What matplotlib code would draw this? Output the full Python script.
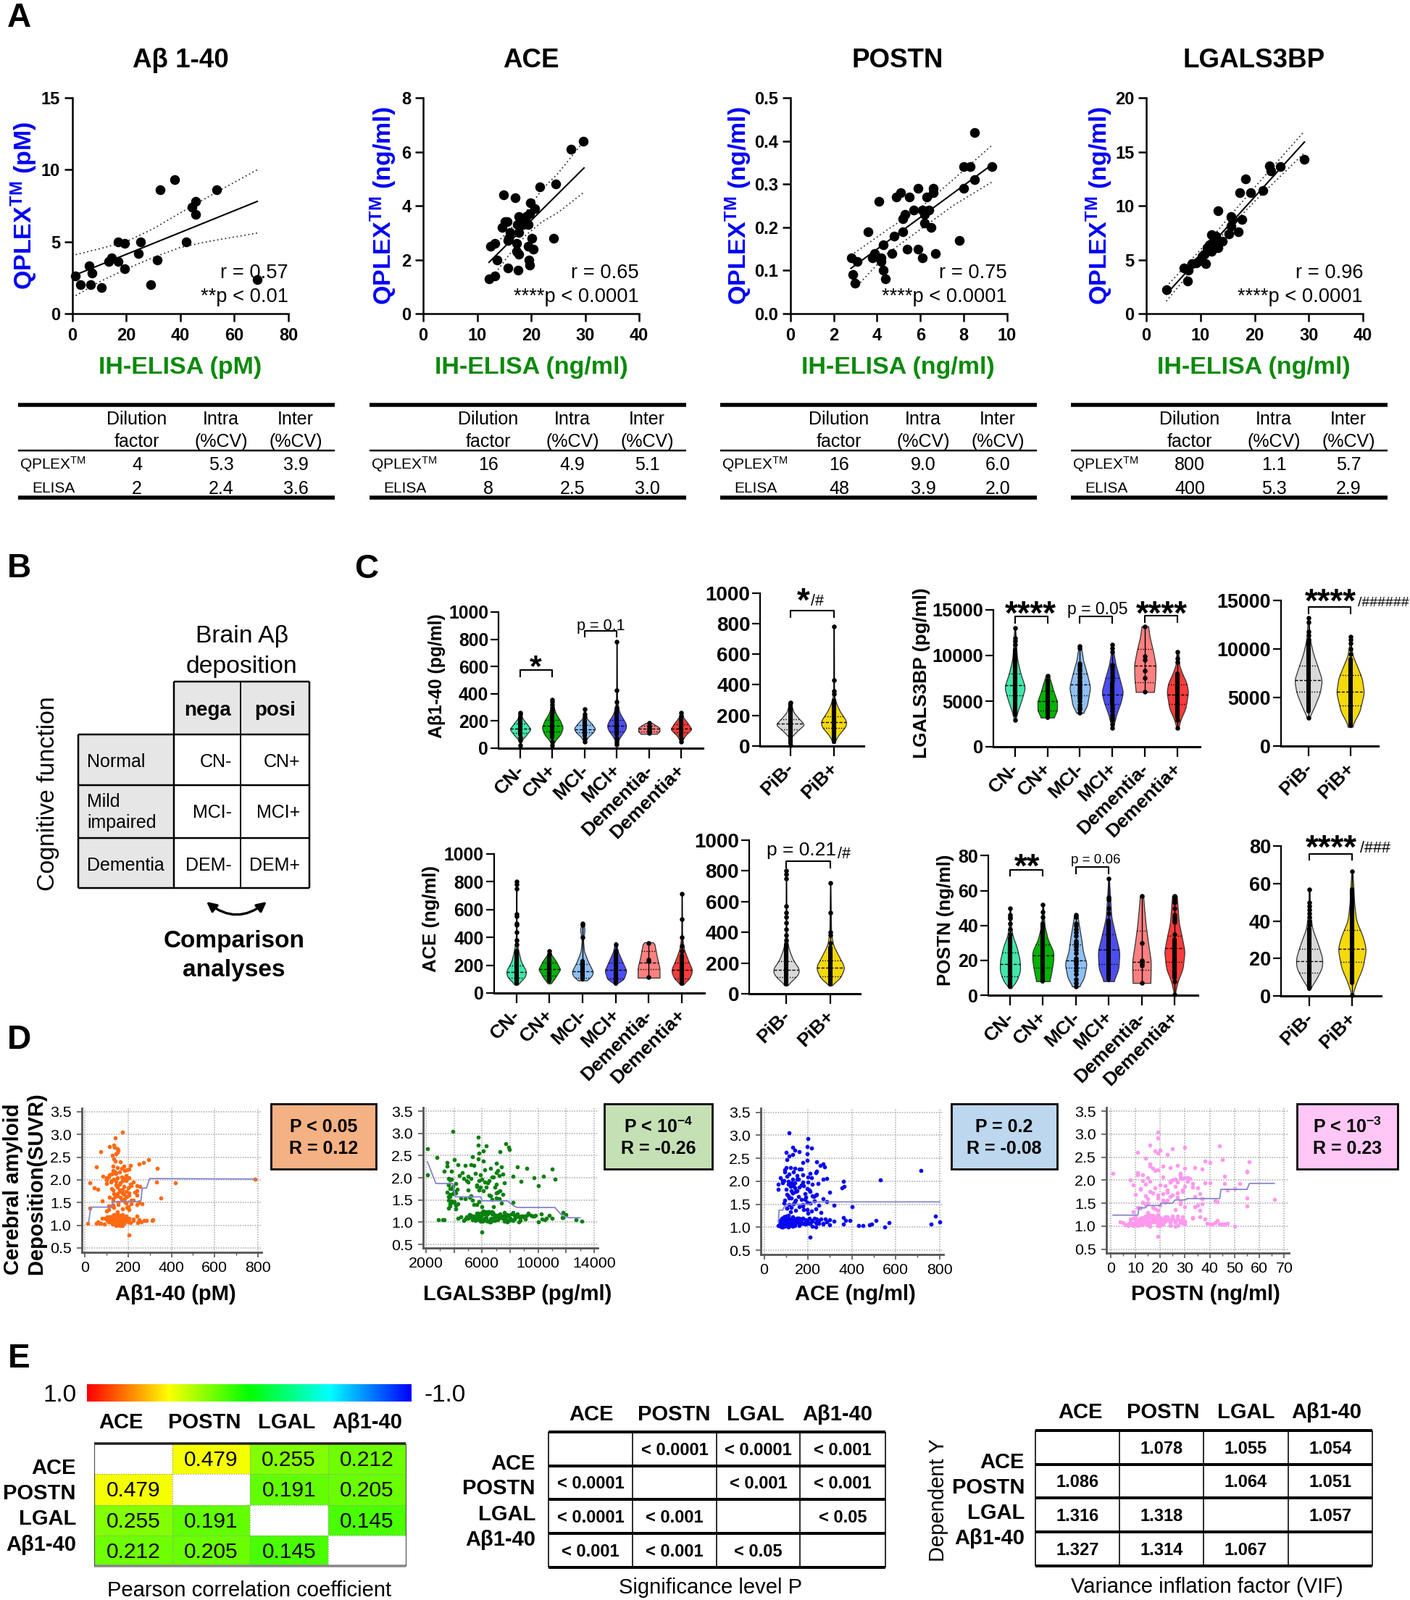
import numpy as np
import matplotlib
matplotlib.use('Agg')
import matplotlib.pyplot as plt
from matplotlib.colors import LinearSegmentedColormap, Normalize
from matplotlib.patches import Rectangle, FancyArrowPatch
from matplotlib.transforms import ScaledTranslation

plt.rcParams['font.family'] = ['Liberation Sans', 'DejaVu Sans']
plt.rcParams['mathtext.fontset'] = 'custom'
plt.rcParams['mathtext.rm'] = 'Liberation Sans'
plt.rcParams['mathtext.bf'] = 'Liberation Sans:bold'
plt.rcParams['mathtext.it'] = 'Liberation Sans:italic'

W, H = 1946, 2209
GREEN = '#0a8a0a'
BLUE = '#0000f5'

# ---------- Panel A data ----------
ab_x = [1.3,3,6.8,6.2,7.3,10.8,13.5,14.5,17,17,19.3,19.5,24.4,25.2,29,31.4,32.5,37.8,42.3,44.3,45.7,45.7,53.5,68.5]
ab_y = [2.6,2,2,3.3,2.8,1.8,3.6,3.9,3.6,5,4.9,3.1,4.2,5,2,3.7,8.6,9.3,5,7.4,7.8,6.9,8.6,2.35]
ab_fit = ([1.3,68.5],[2.7,7.8])
ab_up = ([1.3,10,20,30,40,53,68.5],[4.1,4.5,5.0,5.9,7.0,8.4,10])
ab_lo = ([1.3,10,20,30,40,50,68.5],[1.25,2.2,3.1,3.9,4.6,5.0,5.6])

ace_x = [12.2,13.3,15.7,17.6,19.7,19.6,13.7,17.7,17.3,20.4,19.5,17.3,12.5,13.3,15.7,15.9,20.2,24.2,17.7,16.1,14.6,17.5,18.5,19.5,15.2,15.6,17.7,19.1,19.7,20.7,19.9,14.9,17,21.6,24.5,27.4,29.7]
ace_y = [1.3,1.4,1.7,1.6,1.8,2.0,2.0,2.2,2.3,2.4,2.5,2.6,2.5,2.6,2.7,2.8,2.8,2.8,3.0,3.0,3.2,3.3,3.3,3.3,3.4,3.4,3.6,3.6,3.7,3.9,4.1,4.4,4.3,4.7,4.8,6.1,6.4]
ace_fit = ([12.2,29.8],[1.9,5.4])
ace_up = ([12.8,16,19,22,25,29.8],[2.45,3.1,3.75,4.6,5.2,6.4])
ace_lo = ([13,16,19,22,25,29.8],[1.4,2.2,2.9,3.4,3.75,4.5])

pos_x = [2.8,3.1,2.9,3,3.6,3.8,3.9,4.1,4.2,4.2,4.3,4.4,4.3,4.7,4.8,4.9,5.1,5.2,5.2,5.3,5.4,5.5,5.7,5.9,5.9,6.1,6.1,6.2,6.2,6.3,6.4,6.5,6.6,6.6,6.7,7.8,8,8,8.3,8.5,8.5,9.3]
pos_y = [.13,.12,.09,.07,.19,.13,.14,.26,.13,.12,.10,.08,.16,.14,.18,.27,.28,.19,.22,.23,.15,.27,.24,.29,.15,.24,.13,.23,.21,.27,.24,.20,.29,.28,.14,.17,.29,.34,.34,.31,.42,.34]
pos_fit = ([2.8,9.3],[.105,.345])
pos_up = ([2.8,4.5,6,7.5,9.3],[.135,.195,.245,.31,.39])
pos_lo = ([3.1,4.5,6,7.5,9.3],[.065,.14,.195,.25,.305])

lgal_x = [3.7,7.6,7,7.8,8.4,9.2,9.8,10.3,10.7,11,11.2,11.7,12,12,12.5,12.8,13.3,13.3,14.1,13,12.3,11.7,15.3,15.7,15.7,15.9,17,17.6,17.3,18.3,19.3,21.5,22.8,23,24.8,29.2]
lgal_y = [2.2,3.0,4.2,4,4.6,4.7,4.9,5.3,5.5,4.6,6.1,6.4,5.8,7.3,6.1,7.2,6.1,9.5,6.7,6.7,6.6,6.1,7.4,8.1,9.0,8.7,7.6,8.7,11.2,12.5,11.2,11.4,13.7,13.2,13.6,14.3]
lgal_fit = ([3.7,29.2],[1.8,15.9])
lgal_up = ([3.7,12,20,29.2],[2.5,7.0,11.7,16.9])
lgal_lo = ([3.7,12,20,29.2],[1.15,6.2,10.4,14.9])

A_titles = ['Aβ 1-40','ACE','POSTN','LGALS3BP']
A_units = ['pM','ng/ml','ng/ml','ng/ml']
A_r = ['r = 0.57','r = 0.65','r = 0.75','r = 0.96']
A_p = ['**p < 0.01','****p < 0.0001','****p < 0.0001','****p < 0.0001']
A_xticks = [[0,20,40,60,80],[0,10,20,30,40],[0,2,4,6,8,10],[0,10,20,30,40]]
A_yticks = [[0,5,10,15],[0,2,4,6,8],[0.0,0.1,0.2,0.3,0.4,0.5],[0,5,10,15,20]]
A_dilution = [[4,2],[16,8],[16,48],[800,400]]
A_intra = [['5.3','2.4'],['4.9','2.5'],['9.0','3.9'],['1.1','5.3']]
A_inter = [['3.9','3.6'],['5.1','3.0'],['6.0','2.0'],['5.7','2.9']]

# ---------- Panel B ----------
B_rows = ['Normal','Mild\nimpaired','Dementia']
B_cols = ['nega','posi']
B_cells = [['CN-','CN+'],['MCI-','MCI+'],['DEM-','DEM+']]

# ---------- Panel C data: (values, half widths), quartiles, solid bar, dots ----------
GROUPS = ['CN-','CN+','MCI-','MCI+','Dementia-','Dementia+']
PIB = ['PiB-','PiB+']
VCOL = ['#3fe8a8','#00b400','#8fc0f5','#4d4df2','#ff8080','#ff3b3b']
PCOL = ['#d9d9d9','#f5d90a']

C1 = [
 (([15,60,100,140,180,220,260],[0,.05,.2,.33,.2,.07,.02]),(110,145,180),(100,230),[20,60,80,250,260]),
 (([20,60,100,150,200,250,300,360],[0,.1,.25,.33,.25,.12,.04,.02]),(120,165,210),(80,240),[20,50,260,280,300,320,340,355]),
 (([40,80,120,145,180,220,290],[0,.1,.28,.33,.22,.06,.01]),(115,140,170),(90,200),[50,70,230,250,285]),
 (([20,70,110,160,210,260,340,450,790],[0,.06,.2,.33,.22,.08,.02,.01,.005]),(125,165,205),(100,280),[25,40,60,75,300,340,425,780]),
 (([105,125,150,170,185],[.25,.33,.33,.2,.1]),(125,145,165),None,[110,130,140,150,165,185]),
 (([40,90,140,180,230,270],[0,.12,.33,.22,.06,.02]),(115,145,175),(90,220),[50,70,240,260]),
]
C2 = [
 (([5,60,100,140,180,220,285],[0,.03,.17,.33,.2,.08,.01]),(110,145,175),(20,280),[5,285]),
 (([20,60,100,150,200,260,330,790],[.02,.07,.2,.33,.2,.08,.01,.004]),(120,155,195),(30,300),[340,360,430,780]),
]
C3 = [
 (([60,90,150,220,320,400,800],[0,.2,.33,.15,.05,.01,.005]),(110,150,200),(70,300),[350,380,440,490,500,550,570,750,780,800]),
 (([70,100,170,230,280,300],[.05,.15,.33,.2,.05,.02]),(125,170,220),(90,270),[280,300]),
 (([90,110,150,220,300,380,460,500],[.1,.25,.33,.18,.05,.02,.07,.02]),(110,155,210),(100,230),[400,490,500]),
 (([60,100,160,230,300,365],[0,.25,.33,.2,.07,.02]),(105,165,220),(70,280),[300,350]),
 (([110,180,260,360,365],[.33,.33,.25,.17,.1]),(170,220,300),None,[115,230,240,360]),
 (([60,90,160,230,320,420,715],[0,.2,.33,.2,.06,.01,.005]),(105,165,220),(70,270),[300,340,400,530,715]),
]
C4 = [
 (([55,90,150,210,300,400,800],[0,.17,.33,.17,.05,.01,.004]),(110,155,210),(60,320),[350,380,420,460,500,530,570,750,780,800]),
 (([55,90,170,240,320,400,720],[0,.2,.33,.2,.06,.02,.003]),(115,170,215),(60,300),[330,380,400,530,720]),
]
C5 = [
 (([2900,3800,5000,6500,8000,9500,10500,11800,13000],[.02,.08,.2,.32,.18,.08,.05,.04,.01]),(5600,6750,8000),(3500,10600),[2900,11200,11600,11900,13000]),
 (([3200,4000,5000,6000,7000,7800],[.2,.3,.3,.2,.12,.05]),(4000,5000,6100),(3200,7300),[7800]),
 (([3700,4500,6500,8000,9500,10500,11000],[.1,.22,.32,.22,.1,.06,.02]),(5600,6800,8000),None,[3700,4100,4300,4600,5000,5300,5500,5800,6000,6200,6400,6700,7000,7200,7500,7700,8000,8300,8600,8900,9100,10800,11000]),
 (([2100,3500,5000,6000,7500,9000,10500,11200],[.02,.12,.27,.33,.22,.1,.03,.02]),(4700,5700,7500),(4800,7000),[2100,2500,2900,3200,3500,3900,4200,4500,7200,7500,7800,8100,8400,8700,9000,10400,10800,11200]),
 (([6000,7500,9000,10500,12000,13200],[.28,.32,.33,.25,.15,.1]),(7100,8900,10700),None,[6000,7500,8300,9500,9900,13200]),
 (([2100,3000,4200,6000,7000,8000,9000,10400],[.03,.1,.25,.33,.28,.15,.05,.03]),(4700,5700,6800),(3200,8000),[2100,2900,9300,9700,10400]),
]
C6 = [
 (([2900,4000,5500,6800,8000,9500,11000,13300],[.02,.14,.28,.33,.24,.12,.04,.01]),(5600,6800,8300),(3600,10800),[2900,11000,11400,11800,12800,13200]),
 (([2000,2600,3500,5500,7000,8500,9300,10500,11300],[.05,.1,.22,.33,.28,.14,.06,.02,.01]),(4200,5600,7300),(2100,9000),[9500,10000,10600,11000,11300]),
]
C7 = [
 (([4,8,14,20,28,34,40,50],[.02,.2,.31,.3,.2,.08,.03,.01]),(11,18,24.5),(5,33),[35,38,41,44,45,46,50]),
 (([8,12,20,25,32,40,52],[.2,.25,.32,.32,.15,.05,.01]),(16,23,29),(8,41),[45,48,52]),
 (([5,10,18,25,32,40,46],[.1,.25,.33,.22,.17,.1,.05]),(16,20,29),None,[5,7,9,12,14,16,18,19,20,21,24,26,28,29,30,31,34,36,38,40,41,45,46]),
 (([8,15,25,35,45,55,67],[.15,.3,.33,.2,.08,.05,.01]),(18,26,35),(9,43),[47,50,55,56,67]),
 (([7,15,20,30,40,50,57],[.27,.28,.28,.2,.13,.08,.05]),(14.5,19,37),None,[7,17,18,19,20,30,57]),
 (([.5,8,15,25,32,42,50,57],[.01,.1,.25,.31,.24,.13,.1,.07]),(19,27,34),(10,32),[.5,8,35,42,43,44,45,46,50,53,55,56,57]),
]
C8 = [
 (([4,8,15,20,28,36,45,57],[.02,.14,.3,.31,.2,.07,.02,.01]),(12.5,18.5,25),(4,36),[38,40,42,44,46,48,50,57]),
 (([.5,7,15,25,32,40,50,60,67],[.01,.1,.25,.33,.25,.1,.05,.03,.01]),(18,25,35),(7,57),[.5,66.5]),
]

# ---------- Panel D data ----------
SUVR_HIGH = [3.05,2.92,2.76,2.74,2.72,2.68,2.65,2.63,2.60,2.58,2.55,2.47,2.45,2.42,2.40,2.38,2.35,2.32,2.30,2.28,2.26,2.25,2.24,2.22,2.20,2.18,2.15,2.12,2.10,2.08,2.06,2.05,2.04,2.03,2.02,2.00,1.99,1.98,1.97,1.95,1.94,1.93,1.92,1.90,1.88,1.86,1.85,1.84,1.82,1.80,1.79,1.78,1.76,1.74,1.72,1.70,1.68,1.66,1.65,1.63,1.62,1.60,1.58,1.56,1.55,1.53,1.52,1.50,1.48,1.46,1.44,1.42,1.40,1.38,1.35,1.32,0.78]
SUVR_HIGH2 = [2.30,2.27,2.21,2.14,2.11,2.07,2.05,2.01,1.98,1.96,1.93,1.91,1.89,1.87,1.83,1.81,1.78,1.75,1.73,1.71,1.69,1.67,1.64,1.61,1.59,1.57,1.54,1.51,1.49,1.47,1.45,1.43,1.41,1.39,1.36,1.34,1.30,1.96,2.04,2.17]
SUVR_LOW = [1.12,1.05,1.18,1.08,1.22,1.10,1.15,1.03,1.20,1.07,1.13,1.00,1.17,1.09,1.24,1.06,1.14,1.11,1.02,1.19,
 1.04,1.16,1.10,1.21,1.08,1.13,1.01,1.18,1.06,1.12,1.23,1.09,1.15,1.03,1.11,1.07,1.20,1.14,1.05,1.17,
 1.10,1.25,1.08,1.13,1.02,1.16,1.06,1.19,1.11,1.04,1.12,1.09,1.22,1.15,1.07,1.00,1.14,1.18,1.05,1.10,
 1.13,1.03,1.21,1.08,1.16,1.11,1.06,1.19,1.02,1.12,1.09,1.24,1.14,1.04,1.17,1.07,1.10,1.20,1.05,1.13]
SUVR_LOW2 = [1.08,1.14,1.02,1.19,1.11,1.05,1.22,1.09,1.16,1.03,1.12,1.07,1.20,1.13,1.04,1.17,1.10,1.06,1.15,1.01,1.23,1.08,1.18,1.12,1.05,1.14,1.09,1.21,1.03,1.16,1.11,1.07,1.19,1.13,1.02,1.10,1.24,1.06,1.15,1.09,1.17,1.04,1.12,1.20,1.08,1.14,1.00,1.11,1.18,1.06,1.13,1.22,1.05,1.10,1.16,1.03,1.12,1.08,1.19,1.15]
ab40_high = [175,140,135,115,138,150,155,75,150,145,128,135,295,140,165,270,250,210,130,55,170,335,205,195,130,160,145,125,190,85,110,150,205,180,785,100,125,175,145,330,420,25,100,160,240,255,180,150,45,60,175,130,240,160,205,135,180,240,150,195,165,350,130,215,225,80,185,155,265,240,130,110,195,25,205,100,205]
ab40_high2 = [180,150,185,140,115,170,195,135,190,120,165,210,145,215,200,125,160,190,230,175,150,205,140,115,185,170,130,250,190,215,155,125,200,135,175,110,150,225,100,140]
ab40_low = [150,15,120,170,135,140,185,90,160,200,110,165,145,125,175,210,100,155,130,190,75,140,225,150,120,180,155,105,245,165,135,195,80,150,115,170,240,125,55,160,145,150,260,185,140,205,130,170,275,150,115,135,165,95,60,175,225,155,145,120,250,165,190,110,140,285,155,125,145,130,160,150,205,180,105,135,310,170,70,315]
ab40_low2 = [140,130,150,125,160,145,135,155,120,170,165,110,150,140,128,172,135,148,118,158,142,180,132,152,162,138,122,168,146,128,155,175,115,136,160,105,150,142,185,125,130,165,152,138,148,118,145,190,132,158,168,143,127,153,135,175,112,160,147,122]
lgal3_high = [3900,5700,7700,5700,6300,7900,2100,7950,6100,7300,5800,5300,2800,5700,4000,6100,3500,7000,5200,4800,3500,8500,7400,9200,11000,6200,3300,4600,5500,7500,2100,7200,10400,8200,6800,9700,3600,4700,11200,3700,5800,6500,8800,5000,6400,3600,7000,5600,10000,3900,5900,6300,3800,4200,5800,7300,3500,4100,7000,3700,7500,6600,3600,5100,7000,4800,7200,5300,3800,4000,8200,3700,5400,4100,6000,3600,6000]
lgal3_high2 = [4300,5400,6600,3800,7000,5900,4400,6700,5200,3800,4900,6200,7600,4100,3600,5600,6900,3700,5000,6100,4000,7100,3900,6500,5200,3700,4500,6700,3600,5800,3900,7400,4300,5600,3700,6800,4100,6000,5000,7100]
lgal3_low = [5200,2900,6400,7100,6000,11800,5700,7900,6200,8300,9000,6600,5100,7500,6300,3300,7800,8700,5900,6800,4700,9800,6900,8200,5000,7300,10000,6100,3200,8600,6500,4300,9200,6000,7000,10300,9300,5600,7700,7200,5800,6100,11000,8900,6400,10800,8100,6700,7400,5500,4500,10600,7600,9500,4800,7800,8400,6200,12700,11700,9700,6300,11800,5300,6900,7200,8000,10200,13100,4900,5400,6500,8800,6800,12000,9100,7100,5700,10500,5900]
lgal3_low2 = [6200,5400,7600,6800,7200,5800,6500,8000,7000,6000,8400,6600,5600,7400,6900,7800,6300,7100,5200,8600,6700,5900,7300,9000,6100,7500,5500,6400,8200,7700,6850,5700,9300,6950,6050,7250,6450,5300,7900,6650,5100,8700,7050,6150,7650,5950,6550,7350,8100,6250,9600,6750,5450,7150,8300,6350,7450,5650,8500,6900]
ace2_high = [115,200,195,130,215,140,160,100,195,130,115,105,195,240,175,270,255,275,100,140,170,95,715,240,95,235,115,150,200,75,285,270,130,530,85,360,110,175,125,245,220,65,170,135,365,355,140,195,65,150,125,210,300,130,240,235,110,225,190,115,270,185,145,285,140,210,90,175,320,175,400,105,235,195,215,260,210]
ace2_high2 = [120,160,135,175,105,215,150,90,200,140,110,180,120,160,100,205,145,130,185,105,220,155,125,170,95,230,195,135,115,250,160,125,105,180,145,120,200,85,155,210]
ace2_low = [120,70,110,180,130,160,90,100,205,140,220,550,240,115,780,360,150,190,75,105,85,170,125,360,250,135,80,280,760,145,95,200,115,430,165,105,230,390,480,260,155,110,270,125,95,300,490,175,135,450,145,210,100,370,90,85,510,120,300,570,155,65,130,240,190,800,140,175,110,285,80,105,215,160,125,270,235,150,90,320]
ace2_low2 = [110,95,130,150,85,120,105,175,90,140,125,100,160,115,80,145,135,190,70,110,95,205,125,150,85,115,170,100,135,120,105,90,155,140,220,75,100,130,115,180,95,125,145,110,160,85,235,120,105,140,195,90,130,115,150,100,125,165,80,250]
postn_high = [19,19,16,44,30,25,20,18,11,19,23,14,45,38,56,40,16,27,21,34,30,17,37,19,55,55,1,11,28,46,30,15,32,28,26,8,13,31,24,38,40,46,52,9,22,30,33,35,50,12,29,47,16,23,27,36,19,14,24,27,55,37,66,21,42,43,13,15,28,35,55,34,11,18,36,9,19]
postn_high2 = [16,24,18,28,13,21,31,25,16,27,33,14,20,26,18,12,23,29,17,21,10,25,34,19,15,23,28,22,37,14,20,30,17,12,26,19,15,24,29,11]
postn_low = [12,8,20,5,14,18,25,6,22,10,28,16,9,30,15,19,24,13,20,33,7,27,4,17,29,12,11,23,47,21,16,26,38,15,30,42,17,22,44,25,13,19,28,43,24,8,21,13,20,45,18,30,27,10,14,50,23,16,41,26,11,15,36,19,22,12,39,18,9,29,24,17,20,46,33,13,28,15,40,19]
postn_low2 = [14,11,19,17,22,8,16,24,13,20,26,10,18,15,21,12,28,9,23,7,16,19,25,14,11,20,17,29,13,22,18,15,10,24,27,12,19,16,21,8,14,30,17,23,11,20,26,15,18,13,22,25,9,16,19,12,28,21,14,17]
step_ab = ([18,28,120,125,130,240,260,265,285,300,785],[1.08,1.40,1.40,1.43,1.52,1.52,1.55,1.82,1.82,2.03,2.02])
step_lg = ([2100,2700,3900,4100,5900,6000,7800,8200,8500,11200,11700,12200,13000],[2.36,1.87,1.87,1.57,1.57,1.48,1.48,1.38,1.33,1.33,1.15,1.1,1.1])
step_ac = ([65,68,85,90,105,210,220,800],[1.1,1.37,1.37,1.43,1.5,1.5,1.55,1.55])
step_po = ([1,11,11.5,14,15,20,20.5,25,26,30,31,44,44.5,55,56,66],[1.24,1.24,1.4,1.4,1.45,1.45,1.5,1.5,1.57,1.57,1.6,1.6,1.8,1.8,1.93,1.93])

# ---------- Panel E data ----------
E_names = ['ACE','POSTN','LGAL','Aβ1-40']
pearson = [[np.nan,.479,.255,.212],[.479,np.nan,.191,.205],[.255,.191,np.nan,.145],[.212,.205,.145,np.nan]]
signif = [['','< 0.0001','< 0.0001','< 0.001'],['< 0.0001','','< 0.001','< 0.001'],['< 0.0001','< 0.001','','< 0.05'],['< 0.001','< 0.001','< 0.05','']]
vif = [['','1.078','1.055','1.054'],['1.086','','1.064','1.051'],['1.316','1.318','','1.057'],['1.327','1.314','1.067','']]

# ---------- helpers ----------
fig = plt.figure(figsize=(W/100, H/100), dpi=100, facecolor='white')

def px_ax(l, t, r, b, **kw):
    return fig.add_axes([l/W, 1-b/H, (r-l)/W, (b-t)/H], **kw)

ov = fig.add_axes([0, 0, 1, 1], zorder=20)
ov.set_xlim(0, W); ov.set_ylim(H, 0); ov.axis('off'); ov.patch.set_alpha(0)

def T(x, y, s, size, ha='center', va='center', **kw):
    off = 0.1*size
    if kw.get('rotation') == 90:
        x = x + off
    else:
        y = y + off
    return ov.text(x, y, s, fontsize=size, ha=ha, va=va, **kw)

def L(xs, ys, lw=2, c='k', **kw):
    ov.plot(xs, ys, color=c, lw=lw*0.72, solid_capstyle='butt', **kw)

def stars(x, yc, s, size, ha='center'):
    ov.text(x, yc - 5 + 0.56*size*100/72, s, fontsize=size, ha=ha, va='baseline', fontweight='bold')

for s, x, y in [('A',26,22),('B',26,782),('C',506,783),('D',26,1433),('E',26,1873)]:
    T(x, y, s, 33, fontweight='bold')

# ---------- Panel A ----------
A_rects = [(99.6,135,398,433),(584,135,882,433),(1090.7,135,1390,433),(1582,135,1881,433)]
A_data = [(ab_x,ab_y,ab_fit,ab_up,ab_lo),(ace_x,ace_y,ace_fit,ace_up,ace_lo),(pos_x,pos_y,pos_fit,pos_up,pos_lo),(lgal_x,lgal_y,lgal_fit,lgal_up,lgal_lo)]
A_title_x = [249,733,1239,1731]
A_xl_x = [249,733,1239,1730]
A_yl_x = [31,527,1017,1514.5]
A_tab_x0 = [25,510,994,1478]
for i in range(4):
    ax = px_ax(*A_rects[i])
    x, y, fit, up, lo = A_data[i]
    ax.plot(*fit, color='k', lw=1.5, zorder=2)
    ax.plot(*up, color='#333333', lw=1.3, ls=(0,(1,2)), zorder=2)
    ax.plot(*lo, color='#333333', lw=1.3, ls=(0,(1,2)), zorder=2)
    ax.scatter(x, y, s=95, c='k', linewidths=0, zorder=3, clip_on=False)
    ax.set_xlim(A_xticks[i][0], A_xticks[i][-1]); ax.set_ylim(A_yticks[i][0], A_yticks[i][-1])
    ax.set_xticks(A_xticks[i]); ax.set_yticks(A_yticks[i])
    if i == 2:
        ax.set_yticklabels([f'{v:.1f}' for v in A_yticks[i]])
    for sp in ['top','right']:
        ax.spines[sp].set_visible(False)
    for sp in ['left','bottom']:
        ax.spines[sp].set_linewidth(1.8)
    ax.tick_params(width=1.8, length=8, labelsize=17, pad=4)
    ax.tick_params(axis='x', pad=6)
    for t in ax.get_xticklabels()+ax.get_yticklabels():
        t.set_fontweight('bold')
    ax.patch.set_alpha(0)
    T(A_title_x[i], 81, A_titles[i], 26.5, fontweight='bold')
    T(A_xl_x[i], 505, f'IH-ELISA ({A_units[i]})', 24.5, fontweight='bold', color=GREEN)
    T(A_yl_x[i], 284, r'$\mathbf{QPLEX^{TM}}$'+f' ({A_units[i]})', 24.5, fontweight='bold', color=BLUE, rotation=90)
    rx = A_rects[i][2]
    T(rx, 375, A_r[i], 19.6, ha='right')
    T(rx, 408, A_p[i], 19.6, ha='right')
    # table
    x0 = A_tab_x0[i]
    L([x0, x0+437], [559, 559], 5.5)
    L([x0, x0+437], [622, 622], 2.5)
    L([x0, x0+437], [687, 687], 5.5)
    cx = [x0+164, x0+280, x0+383]
    T(cx[0], 577, 'Dilution', 18); T(cx[0], 608, 'factor', 18)
    T(cx[1], 577, 'Intra', 18); T(cx[1], 608, '(%CV)', 18)
    T(cx[2], 577, 'Inter', 18); T(cx[2], 608, '(%CV)', 18)
    T(x0+48, 640, r'QPLEX$^{\mathrm{TM}}$', 15)
    T(x0+49, 673, 'ELISA', 15)
    for r, yy in enumerate([640, 673]):
        T(cx[0], yy, str(A_dilution[i][r]), 18)
        T(cx[1], yy, A_intra[i][r], 18)
        T(cx[2], yy, A_inter[i][r], 18)

# ---------- Panel B ----------
bx = [107.5,240.4,332,427]
by = [941,1013.7,1083.7,1157.4,1226]
ov.add_patch(Rectangle((bx[1],by[0]),bx[3]-bx[1],by[1]-by[0],fc='#e6e6e6',ec='none'))
ov.add_patch(Rectangle((bx[0],by[1]),bx[1]-bx[0],by[4]-by[1],fc='#e6e6e6',ec='none'))
for yy in by[1:]:
    L([bx[0],bx[3]],[yy,yy],2.5)
L([bx[1],bx[3]],[by[0],by[0]],2.5)
L([bx[0],bx[0]],[by[1],by[4]],2.5)
L([bx[1],bx[1]],[by[0],by[4]],2.5)
L([bx[2],bx[2]],[by[0],by[4]],2)
L([bx[3],bx[3]],[by[0],by[4]],2.5)
T(333.7, 876, 'Brain Aβ', 24.3); T(333.7, 918, 'deposition', 24.3)
T(64, 1096, 'Cognitive function', 24.3, rotation=90)
T(286, 979, B_cols[0], 20, fontweight='bold'); T(380, 979, B_cols[1], 20, fontweight='bold')
for r, (name, yc) in enumerate(zip(B_rows, [1050,1120,1193])):
    T(120, yc, name, 18, ha='left', linespacing=1.25)
    T(320, yc, B_cells[r][0], 18, ha='right')
    T(414, yc, B_cells[r][1], 18, ha='right')
ov.add_patch(FancyArrowPatch((285,1245),(368,1245),connectionstyle='arc3,rad=0.4',arrowstyle='<|-|>',mutation_scale=20,lw=2.4,color='k',shrinkA=0,shrinkB=0))
T(323, 1297, 'Comparison', 24, fontweight='bold'); T(323, 1337, 'analyses', 24, fontweight='bold')

# ---------- Panel C ----------
def smooth(yv, wv):
    yy = np.linspace(yv[0], yv[-1], 240)
    ww = np.interp(yy, yv, wv)
    k = 21
    pad = np.pad(ww, k//2, mode='edge')
    return yy, np.convolve(pad, np.ones(k)/k, mode='valid')

def violin_panel(rect, t0, step, ymax, yticks, labels, cols, vdata, tsize, xsize, ds):
    l, t, r, b = rect
    ax = px_ax(l, t, r, b)
    for i, ((yv, wv), q, solid, dots) in enumerate(vdata):
        yy, ww = smooth(yv, wv)
        ax.fill_betweenx(yy, i-ww, i+ww, facecolor=cols[i], edgecolor='#333333', lw=0.9, zorder=2)
        ax.plot([i,i],[yv[0],yv[-1]], color='k', lw=1, zorder=3)
        for v, ls in zip(q, [(0,(1,1.5)),(0,(3,1.5)),(0,(1,1.5))]):
            w = np.interp(v, yy, ww)
            ax.plot([i-w,i+w],[v,v], color='k', lw=1, ls=ls, zorder=3)
        if solid:
            ax.plot([i,i],solid, color='k', lw=4.4, solid_capstyle='round', zorder=4)
        ax.scatter([i]*len(dots), dots, s=ds, c='k', linewidths=0, zorder=4, clip_on=False)
    ax.set_xlim((l-t0)/step, (r-t0)/step); ax.set_ylim(0, ymax)
    ax.set_xticks(range(len(labels))); ax.set_yticks(yticks)
    ax.set_xticklabels(labels, rotation=45, ha='right', rotation_mode='anchor', fontweight='bold', fontsize=xsize)
    for tl in ax.get_yticklabels():
        tl.set_fontweight('bold')
    ax.tick_params(axis='y', labelsize=tsize, width=1.6, length=8, pad=2)
    ax.tick_params(axis='x', width=1.6, length=10, pad=3)
    shift = ScaledTranslation(-5/72, 0, fig.dpi_scale_trans)
    for tl in ax.get_xticklabels():
        tl.set_transform(tl.get_transform() + shift)
    for sp in ['top','right']:
        ax.spines[sp].set_visible(False)
    ax.spines['left'].set_linewidth(1.6); ax.spines['bottom'].set_linewidth(2.2)
    ax.patch.set_alpha(0)
    return ax

def bracket(ax, a, b, top, leg):
    ax.plot([a,a,b,b],[leg,top,top,leg], color='k', lw=1.5, clip_on=False, zorder=6)

T1000 = [0,200,400,600,800,1000]
DS = 22
c1 = violin_panel((688,845,970,1033),718,44.4,1000,T1000,GROUPS,VCOL,C1,17.8,19,DS)
bracket(c1,0,1,577,527); bracket(c1,2,3,862,820)
stars(739.4,914,'*',31); T(829,863,'p = 0.1',15.5)
c2 = violin_panel((1049.4,818.6,1192,1030),1090.5,60.1,1000,T1000,PIB,PCOL,C2,20,19,DS)
bracket(c2,0,1,883,841)
stars(1108.7,823,'*',33); T(1119,829,'/#',15.5,ha='left')
c3 = violin_panel((681.7,1179,972,1371),712.5,45.7,1000,T1000,GROUPS,VCOL,C3,17.8,19,DS)
c4 = violin_panel((1034,1160,1187,1372),1085,61,1000,T1000,PIB,PCOL,C4,20,19,DS)
bracket(c4,0,1,863,821)
T(1105.6,1172,'p = 0.21',19); T(1156,1178,'/#',15.5,ha='left')
c5 = violin_panel((1371,842,1656,1031),1400.6,44.9,15000,[0,5000,10000,15000],GROUPS,VCOL,C5,18.3,19,DS)
bracket(c5,0,1,14266,13600); bracket(c5,2,3,14266,13600); bracket(c5,4,5,14330,13660)
stars(1422,841,'****',33); T(1515,840,'p = 0.05',16.5); stars(1603,841,'****',33)
c6 = violin_panel((1768,829,1902,1030.4),1805.6,57.9,15000,[0,5000,10000,15000],PIB,PCOL,C6,19.4,19,DS)
bracket(c6,0,1,14340,13650)
stars(1836,824,'****',33); T(1874,831,'/######',14,ha='left')
c7 = violin_panel((1364,1181.5,1653,1374),1394,45.4,80,[0,20,40,60,80],GROUPS,VCOL,C7,18,19,DS)
bracket(c7,0,1,72,68.5); bracket(c7,2,3,73.4,70)
stars(1418,1190,'**',33); T(1512.6,1186,'p = 0.06',13.5)
c8 = violin_panel((1768,1168,1906,1375),1807,59,80,[0,20,40,60,80],PIB,PCOL,C8,19.5,19,DS)
bracket(c8,0,1,75.9,72.5)
stars(1837,1164,'****',33); T(1877,1170,'/###',15.5,ha='left')
T(601,933,'Aβ1-40 (pg/ml)',17.8,fontweight='bold',rotation=90)
T(593,1269,'ACE (ng/ml)',18.5,fontweight='bold',rotation=90)
T(1270,929,'LGALS3BP (pg/ml)',19,fontweight='bold',rotation=90)
T(1303,1270,'POSTN (ng/ml)',18.5,fontweight='bold',rotation=90)

# ---------- Panel D ----------
D_cfg = [
 ((112.5,1530,361,1728.7),(117,356,0,800),[0,200,400,600,800],[0,200,400,600,800],100,ab40_high+ab40_high2,ab40_low+ab40_low2,step_ab,'#ff6a13','Aβ1-40 (pM)',242.5,(1535,1723)),
 ((584,1529,825,1723),(588,820,2000,14000),[2000,4000,6000,8000,10000,12000,14000],[2000,6000,10000,14000],1000,lgal3_high+lgal3_high2,lgal3_low+lgal3_low2,step_lg,'#0a8010','LGALS3BP (pg/ml)',714,(1534,1718)),
 ((1049.6,1530,1302,1732),(1054.6,1296.7,0,800),[0,200,400,600,800],[0,200,400,600,800],100,ace2_high+ace2_high2,ace2_low+ace2_low2,step_ac,'#0808f0','ACE (ng/ml)',1180,(1535.7,1726)),
 ((1526.5,1529,1778.5,1730),(1532.7,1772.4,0,70),[0,10,20,30,40,50,60,70],[0,10,20,30,40,50,60,70],5,postn_high+postn_high2,postn_low+postn_low2,step_po,'#ff99ee','POSTN (ng/ml)',1664,(1534,1724.7)),
]
for rect,(p0,p1,v0,v1),grid,labs,minor,xh,xl,step,col,lab,lx,(y35,y05) in D_cfg:
    l,t,r,b = rect
    ax = px_ax(l,t,r,b)
    sx = (v1-v0)/(p1-p0); sy = 3.0/(y05-y35)
    ax.set_xlim(v0+(l-p0)*sx, v0+(r-p0)*sx)
    ax.set_ylim(0.5-(b-y05)*sy, 3.5+(y35-t)*sy)
    ax.set_xticks(grid); ax.set_xticklabels([str(v) if v in labs else '' for v in grid])
    ax.set_yticks([.5,1,1.5,2,2.5,3,3.5])
    ax.set_yticklabels(['0.5','1.0','1.5','2.0','2.5','3.0','3.5'])
    ax.set_xticks(np.arange(v0,v1+minor/2,minor),minor=True)
    ax.grid(True,which='major',color='#a8a8a8',lw=1.1,ls=(0,(1,1.2)))
    ax.tick_params(labelsize=15.4,width=1.2,length=5,color='#555555',pad=3.5)
    ax.tick_params(axis='y',pad=5)
    ax.tick_params(which='minor',width=1,length=3,color='#555555')
    for sp in ['top','right']:
        ax.spines[sp].set_visible(False)
    for sp in ['left','bottom']:
        ax.spines[sp].set_linewidth(2); ax.spines[sp].set_color('#555555')
    ax.set_axisbelow(True)
    ax.scatter(list(xh)+list(xl),SUVR_HIGH+SUVR_HIGH2+SUVR_LOW+SUVR_LOW2,s=17,c=col,linewidths=0,zorder=3)
    ax.plot(*step,color='#8585cc',lw=1.3,zorder=4)
    T(lx,1785,lab,21,fontweight='bold')
T(16,1642,'Cerebral amyloid',21,fontweight='bold',rotation=90)
T(48,1634,'Deposition(SUVR)',21,fontweight='bold',rotation=90)
D_boxes = [(374,519,'#f4b183','P < 0.05','R = 0.12'),
           (834,983,'#c5e0b4',r'P < 10$^{\mathbf{-4}}$','R = -0.26'),
           (1313,1459,'#bdd7ee','P = 0.2','R = -0.08'),
           (1790,1929,'#ffc6f6',r'P < 10$^{\mathbf{-3}}$','R = 0.23')]
for x0,x1,c,a,b_ in D_boxes:
    ov.add_patch(Rectangle((x0,1524),x1-x0,90,fc=c,ec='k',lw=2))
    xc=(x0+x1)/2
    T(xc,1554,a,18,fontweight='bold'); T(xc,1584,b_,18,fontweight='bold')

# ---------- Panel E ----------
cmap = LinearSegmentedColormap.from_list('rygcb',['#ff0000','#ffff00','#00ff00','#00ffff','#0000ff'][::-1])
norm = Normalize(-1,1)
cb = px_ax(120,1911,568,1935)
cb.imshow(np.linspace(1,-1,400)[None,:],aspect='auto',cmap=cmap,norm=norm)
cb.axis('off')
T(83,1924,'1.0',24); T(614,1924,'-1.0',24)

hx0,hx1,hy0,hy1 = 130,560,1993,2162
hm = px_ax(hx0,hy0,hx1,hy1)
hm.pcolormesh(np.arange(5),np.arange(5),np.ma.masked_invalid(np.array(pearson)),cmap=cmap,norm=norm,edgecolors='none')
hm.set_xlim(0,4); hm.set_ylim(4,0)
hm.set_xticks([]); hm.set_yticks([])
for k in [1,2,3]:
    hm.axvline(k,color='#999999',lw=.9,ls=':'); hm.axhline(k,color='#999999',lw=.9,ls=':')
for sp in hm.spines.values():
    sp.set_visible(False)
L([hx0,hx1],[hy0,hy0],3.5,c='#222222'); L([hx0,hx1],[hy1,hy1],3.5,c='#888888')
L([hx0,hx0],[hy0,hy1],1.2,c='#555555'); L([hx1,hx1],[hy0,hy1],1.2,c='#555555')
for i in range(4):
    for j in range(4):
        if not np.isnan(pearson[i][j]):
            hm.text(j+.5,i+.55,f'{pearson[i][j]:.3f}',ha='center',va='center',fontsize=21.5)
for n,xc in zip(E_names,[167.5,282,396,507]):
    T(xc,1962,n,21,fontweight='bold')
for n,yc in zip(E_names,[2025,2060,2095,2131]):
    T(105,yc,n,21,fontweight='bold',ha='right')
T(344,2194,'Pearson correlation coefficient',21)

def grid_table(xs,ys,vals,head_x,head_y,row_x,row_ys,title,tx,ty):
    for yy in ys:
        L([xs[0],xs[-1]],[yy,yy],4)
    for xx in xs:
        L([xx,xx],[ys[0],ys[-1]],1.6)
    for i,row in enumerate(vals):
        for j,v in enumerate(row):
            T((xs[j]+xs[j+1])/2,(ys[i]+ys[i+1])/2,v,17,fontweight='bold')
    for n,xc in zip(E_names,head_x):
        T(xc,head_y,n,21,fontweight='bold')
    for n,yc in zip(E_names,row_ys):
        T(row_x,yc,n,21,fontweight='bold',ha='right')
    T(tx,ty,title,21)

grid_table([757,873,989,1104,1222],[1977,2024,2070,2117,2164],signif,[816,930,1043,1156],1951,739,[2019,2053,2089,2124],'Significance level P',980,2190)
grid_table([1429,1545,1661,1778,1894],[1975,2022,2068,2115,2162],vif,[1491,1605,1720,1831],1948,1414,[2017,2052,2087,2122],'Variance inflation factor (VIF)',1666,2189)
T(1293,2071,'Dependent Y',21,rotation=90)

fig.savefig('out.png',dpi=100)
